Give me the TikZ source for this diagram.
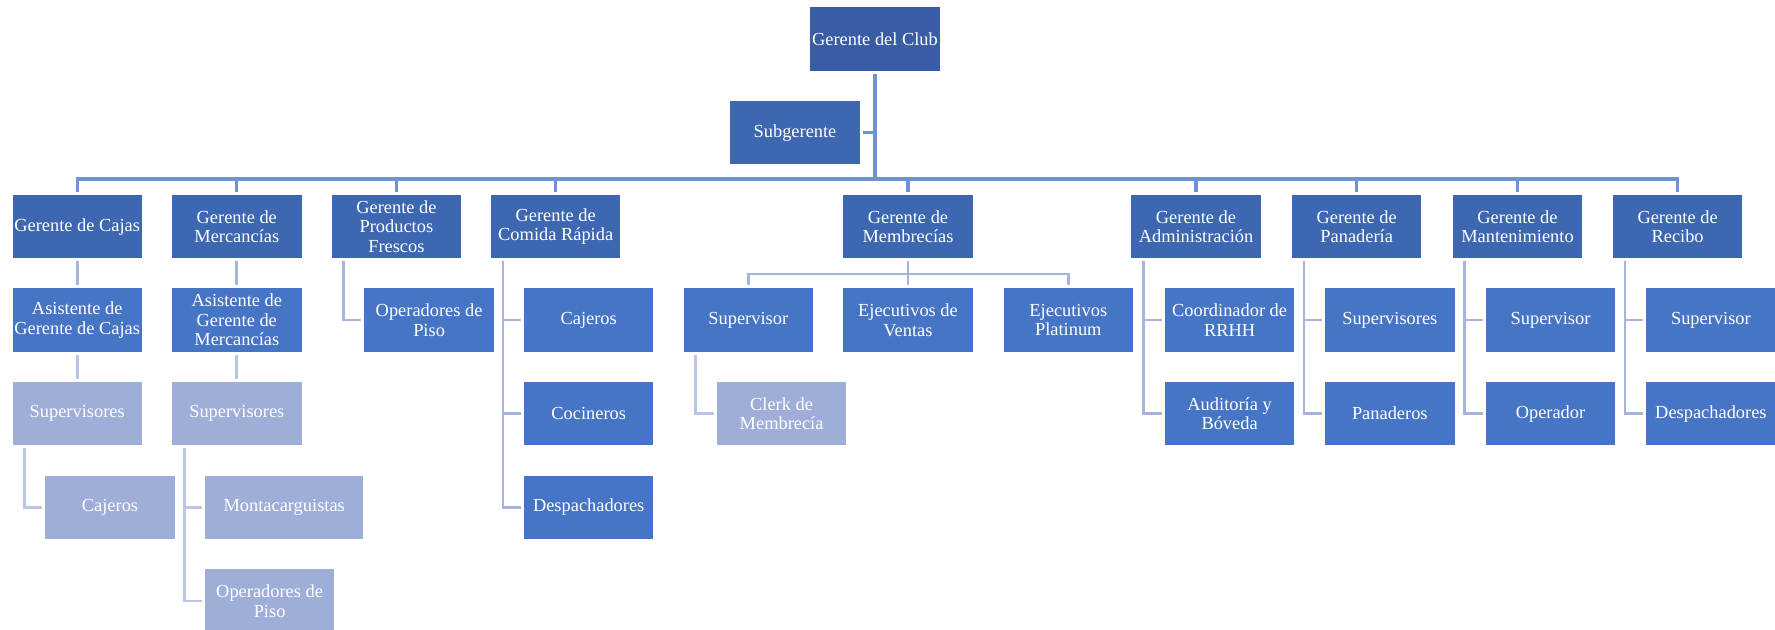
\documentclass[tikz,border=0pt]{standalone}
\usepackage{fontspec}
\setmainfont{Liberation Serif}
\usepackage{tikz}
\usetikzlibrary{positioning, calc}
\definecolor{orgTop}{HTML}{3A5CA4}
\definecolor{orgMid}{HTML}{3E67B2}
\definecolor{orgLow}{HTML}{4775C5}
\definecolor{orgLite}{HTML}{9EAED9}
\definecolor{linkMain}{HTML}{7191D5}
\definecolor{linkSoft}{HTML}{A6B4DD}
\definecolor{linkPale}{HTML}{BAC4E6}

\begin{document}
\begin{tikzpicture}[
    x=0.5pt, y=-0.5pt,
    font=\fontsize{9.2}{9.85}\selectfont,
    box/.style  ={rectangle, text=white, align=center, inner sep=0pt, outer sep=1.5pt, minimum width=64.7pt, minimum height=31.7pt},
    chief/.style={box, fill=orgTop},
    mgr/.style  ={box, fill=orgMid},
    staff/.style={box, fill=orgLow},
    lite/.style ={box, fill=orgLite},
    trunk/.style={draw=linkMain, line width=1.6pt},
    link/.style ={draw=linkSoft, line width=1.4pt},
    pale/.style ={draw=linkPale, line width=1.4pt},
]
\useasboundingbox (0,0) rectangle (1775,630);

% ---- Top ----
\node[chief] (club) at (875,39) {Gerente del Club};
\node[mgr]   (sub)  at (795,132.7) {Subgerente};
\coordinate (bus) at (875,179);

% ---- Managers ----
\node[mgr] (cajas)  at (77.2,226.7)   {Gerente de Cajas};
\node[mgr] (merc)   at (236.8,226.7)  {Gerente de\\Mercancías};
\node[mgr] (fres)   at (396.4,226.7)  {Gerente de\\Productos\\Frescos};
\node[mgr] (comida) at (555.7,226.7)  {Gerente de\\Comida Rápida};
\node[mgr] (memb)   at (908,226.7)    {Gerente de\\Membrecías};
\node[mgr] (admin)  at (1196,226.7)   {Gerente de\\Administración};
\node[mgr] (pan)    at (1356.7,226.7) {Gerente de\\Panadería};
\node[mgr] (mant)   at (1517.5,226.7) {Gerente de\\Mantenimiento};
\node[mgr] (recibo) at (1677.6,226.7) {Gerente de\\Recibo};

% ---- Cajas / Mercancias ----
\node[staff] (asistC) at (77.2,320)  {Asistente de\\Gerente de Cajas};
\node[lite]  (supC)   at (77.2,413.7) {Supervisores};
\node[lite]  (cajC)   at (110,507.4)  {Cajeros};
\node[staff] (asistM) at (236.8,320)  {Asistente de\\Gerente de\\Mercancías};
\node[lite]  (supMe)  at (236.8,413.7) {Supervisores};
\node[lite, minimum width=79.2pt] (monta) at (284.2,507.4) {Montacarguistas};
\node[lite]  (opM)    at (269.6,601)  {Operadores de\\Piso};

% ---- Frescos / Comida Rapida ----
\node[staff] (opF)    at (429.1,320)   {Operadores de\\Piso};
\node[staff] (crCaj)  at (588.7,320)   {Cajeros};
\node[staff] (crCoc)  at (588.7,413.7) {Cocineros};
\node[staff] (crDesp) at (588.7,507.4) {Despachadores};

% ---- Membrecias ----
\node[staff] (supMb)  at (748.3,320)   {Supervisor};
\node[staff] (ventas) at (908,320)     {Ejecutivos de\\Ventas};
\node[staff] (plat)   at (1068.3,320)  {Ejecutivos\\Platinum};
\node[lite]  (clerk)  at (781.6,413.7) {Clerk de\\Membrecía};
\coordinate (mbus) at (908,274);

% ---- Right branches ----
\node[staff] (coord)   at (1229.6,320)   {Coordinador de\\RRHH};
\node[staff] (audit)   at (1229.6,413.7) {Auditoría y\\Bóveda};
\node[staff] (panSup)  at (1389.8,320)   {Supervisores};
\node[staff] (panad)   at (1389.8,413.7) {Panaderos};
\node[staff] (mantSup) at (1550.5,320)   {Supervisor};
\node[staff] (oper)    at (1550.5,413.7) {Operador};
\node[staff] (recSup)  at (1710.9,320)   {Supervisor};
\node[staff] (recDesp) at (1710.9,413.7) {Despachadores};

% ---- Connectors: top ----
\draw[trunk] (club.south) -- (bus);
\draw[trunk] (sub.east) -- (sub.east -| bus);
\foreach \m in {cajas,merc,fres,comida,memb,admin,pan,mant,recibo}
  \draw[trunk] (bus) -| (\m.north);

% ---- Connectors: branches ----
\draw[link] (cajas) -- (asistC);
\draw[pale] (asistC) -- (supC);
\draw[pale] ([xshift=7.5pt]supC.south west) |- (cajC.west);
\draw[link] (merc) -- (asistM);
\draw[pale] (asistM) -- (supMe);
\coordinate (mv) at ([xshift=7.5pt]supMe.south west);
\draw[pale] (mv) |- (opM.west);
\draw[pale] (mv |- monta.west) -- (monta.west);

\draw[link] ([xshift=7.5pt]fres.south west) |- (opF.west);
\coordinate (cv) at ([xshift=7.5pt]comida.south west);
\draw[link] (cv) |- (crDesp.west);
\foreach \c in {crCaj,crCoc}
  \draw[link] (cv |- \c.west) -- (\c.west);

\draw[link] (memb.south) -- (mbus);
\foreach \c in {supMb,ventas,plat}
  \draw[link] (mbus) -| (\c.north);
\draw[pale] ([xshift=7.5pt]supMb.south west) |- (clerk.west);

\draw[link] ([xshift=7.5pt]admin.south west) |- (audit.west);
\draw[link] ([xshift=7.5pt]admin.south west |- coord.west) -- (coord.west);
\draw[link] ([xshift=7.5pt]pan.south west) |- (panad.west);
\draw[link] ([xshift=7.5pt]pan.south west |- panSup.west) -- (panSup.west);
\draw[link] ([xshift=7.5pt]mant.south west) |- (oper.west);
\draw[link] ([xshift=7.5pt]mant.south west |- mantSup.west) -- (mantSup.west);
\draw[link] ([xshift=7.5pt]recibo.south west) |- (recDesp.west);
\draw[link] ([xshift=7.5pt]recibo.south west |- recSup.west) -- (recSup.west);

\end{tikzpicture}
\end{document}
